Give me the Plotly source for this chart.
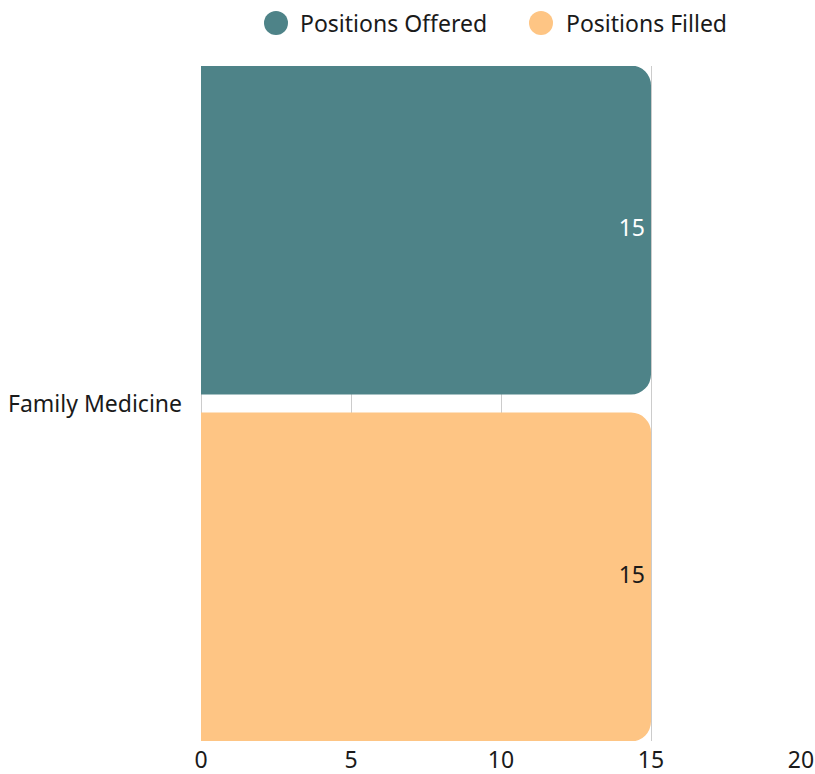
import plotly.graph_objects as go

categories = ["Family Medicine"]
series_names = ["Positions Offered", "Positions Filled"]
offered = [15]
filled = [15]
colors = ["#4E8388", "#FEC584"]
text_colors = ["#FFFFFF", "#1A1A1A"]
x_ticks = [0, 5, 10, 15, 20]

FONT = "Noto Sans"
FS = 23

fig = go.Figure()
for i, (name, vals, col) in enumerate(zip(series_names, [offered, filled], colors)):
    fig.add_trace(go.Bar(
        y=categories, x=vals, name=name, orientation="h", offsetgroup=str(i),
        marker=dict(color=col, line=dict(width=0)),
        showlegend=False, hoverinfo="x+name",
    ))
# value labels near the bar ends (invisible markers give a small padding)
for i, (name, vals, tcol) in enumerate(zip(series_names, [offered, filled], text_colors)):
    fig.add_trace(go.Scatter(
        y=categories, x=vals, mode="markers+text", orientation="h", offsetgroup=str(i),
        marker=dict(size=8, opacity=0),
        text=[str(v) for v in vals], textposition="middle left",
        textfont=dict(color=tcol, size=FS, family=FONT),
        showlegend=False, hoverinfo="skip", cliponaxis=False,
    ))

fig.update_layout(
    width=815, height=774,
    margin=dict(l=201, r=14, t=66, b=33, pad=0),
    paper_bgcolor="white", plot_bgcolor="white",
    barmode="group", bargap=0, bargroupgap=0.052, barcornerradius=20,
    scattermode="group", scattergap=0,
    font=dict(family=FONT, size=FS, color="#1A1A1A"),
    xaxis=dict(range=[0, 20], tickvals=x_ticks, showgrid=True, gridcolor="#CCCCCC",
               gridwidth=1, zeroline=True, zerolinecolor="#CCCCCC", zerolinewidth=1,
               showline=False, ticks="", tickfont=dict(size=FS), automargin=False,
               ticklabelstandoff=3),
    yaxis=dict(range=[0.4863, -0.4863], showgrid=False, zeroline=False, ticks="",
               ticklabelstandoff=18, tickfont=dict(size=FS), automargin=False),
)

# Legend drawn with circle swatches
legend_items = [(276, 298), (541, 564)]
for (cx, tx), name, col in zip(legend_items, series_names, colors):
    xp = (cx - 201) / 600
    yp = (741 - 23) / 675
    fig.add_shape(type="circle", xref="paper", yref="paper", xsizemode="pixel", ysizemode="pixel",
                  xanchor=xp, yanchor=yp, x0=-12, x1=12, y0=-12, y1=12,
                  fillcolor=col, line=dict(width=0))
    fig.add_annotation(xref="paper", yref="paper", x=(tx - 201) / 600, y=yp, text=name,
                       showarrow=False, xanchor="left", yanchor="middle",
                       font=dict(size=FS, family=FONT, color="#1A1A1A"))

fig.write_html("out.html", config={"displayModeBar": False},
               post_script="document.body.style.margin='0px';")
